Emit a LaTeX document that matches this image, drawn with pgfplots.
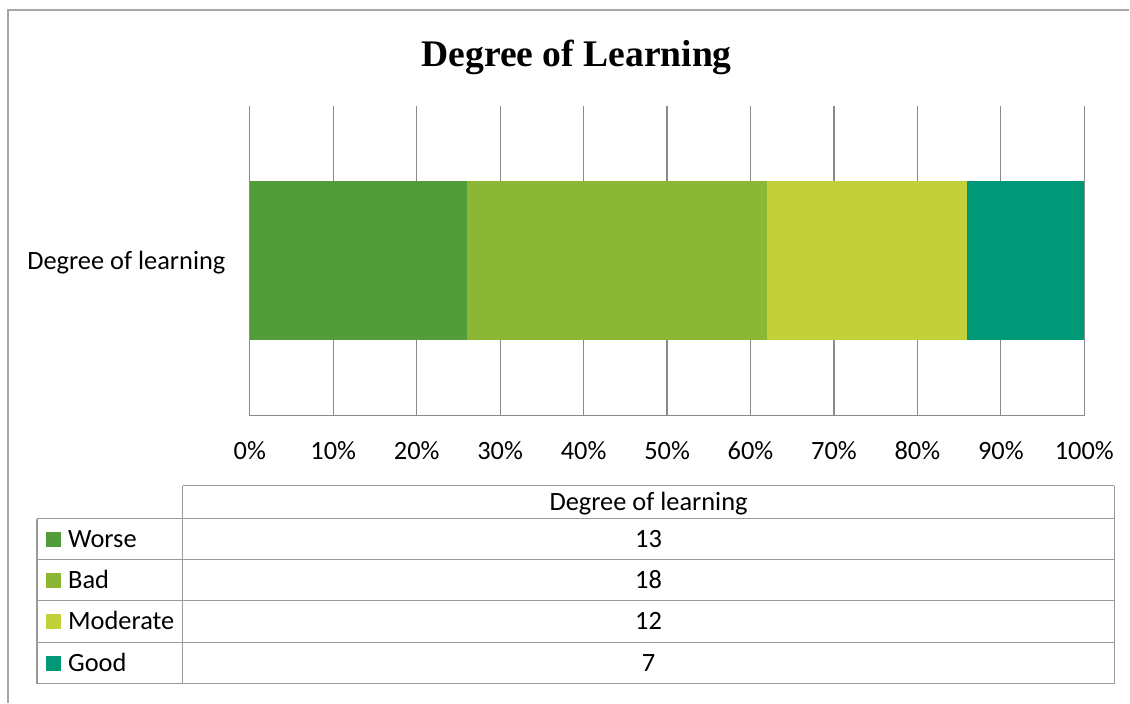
\documentclass[border=0pt]{standalone}
\usepackage{pgfplots}
\pgfplotsset{compat=1.18}
\usepackage{fontspec}
\setmainfont{Carlito}
\newfontfamily\titlefont{Liberation Serif}
\definecolor{cWorse}{HTML}{529D3A}
\definecolor{cBad}{HTML}{8CB734}
\definecolor{cModerate}{HTML}{C2D03A}
\definecolor{cGood}{HTML}{009978}
\definecolor{framec}{HTML}{A6A6A6}
\definecolor{gridc}{HTML}{8A8A8A}
\definecolor{tablec}{HTML}{9A9A9A}
\newcommand{\lbl}{\fontsize{26.4bp}{30bp}\selectfont}
\begin{document}
\begin{tikzpicture}
\begin{scope}[x=1bp,y=1bp]
\path (0,0) rectangle (1130,703);
\draw[framec, line width=1.5bp] (8,0) -- (8,693) -- (1130,693);
\node[anchor=base, inner sep=0, font=\titlefont\bfseries\fontsize{37.6bp}{40bp}\selectfont] at (577,636) {Degree of Learning};
% data table
\begin{scope}[tablec, line width=1.2bp]
\draw (183,217) -- (1115,217);
\draw (37,184) -- (1115,184);
\draw (37,143) -- (1115,143);
\draw (37,102) -- (1115,102);
\draw (37,60) -- (1115,60);
\draw (37,19) -- (1115,19);
\draw (183,217) -- (183,19);
\draw (1115,217) -- (1115,19);
\draw (37,184) -- (37,19);
\end{scope}
\node[anchor=base, inner sep=0, font=\lbl] at (649,192.2) {Degree of learning};
\fill[cWorse] (46,156) rectangle (61,171);
\fill[cBad] (46,115) rectangle (61,130);
\fill[cModerate] (46,73.5) rectangle (61,88.5);
\fill[cGood] (46,32) rectangle (61,47);
\node[anchor=base west, inner sep=0, font=\lbl] at (68,155.2) {Worse};
\node[anchor=base west, inner sep=0, font=\lbl] at (68,114.2) {Bad};
\node[anchor=base west, inner sep=0, font=\lbl] at (68,72.7) {Moderate};
\node[anchor=base west, inner sep=0, font=\lbl] at (68,31.2) {Good};
\node[anchor=base, inner sep=0, font=\lbl] at (649,155.2) {13};
\node[anchor=base, inner sep=0, font=\lbl] at (649,114.2) {18};
\node[anchor=base, inner sep=0, font=\lbl] at (649,72.7) {12};
\node[anchor=base, inner sep=0, font=\lbl] at (649,31.2) {7};
\end{scope}
\begin{axis}[
  at={(250bp,287bp)}, anchor=south west, scale only axis,
  width=835bp, height=310bp,
  xbar stacked, bar width=159bp,
  xmin=0, xmax=50, ymin=-1, ymax=1,
  xtick={0,5,...,50},
  xticklabels={0\%,10\%,20\%,30\%,40\%,50\%,60\%,70\%,80\%,90\%,100\%},
  ytick={0}, yticklabels={Degree of learning},
  axis lines=left, axis line style={-, draw=gridc, line width=1.2bp},
  xmajorgrids, grid style={draw=gridc, line width=1.2bp},
  major tick length=0,
  tick label style={font=\lbl, text=black},
  xticklabel style={yshift=-22bp},
  yticklabel style={xshift=-21bp, yshift=-2bp},
  clip=false,
]
\addplot[fill=cWorse, draw=none] coordinates {(13,0)};
\addplot[fill=cBad, draw=none] coordinates {(18,0)};
\addplot[fill=cModerate, draw=none] coordinates {(12,0)};
\addplot[fill=cGood, draw=none] coordinates {(7,0)};
\end{axis}
\end{tikzpicture}
\end{document}
